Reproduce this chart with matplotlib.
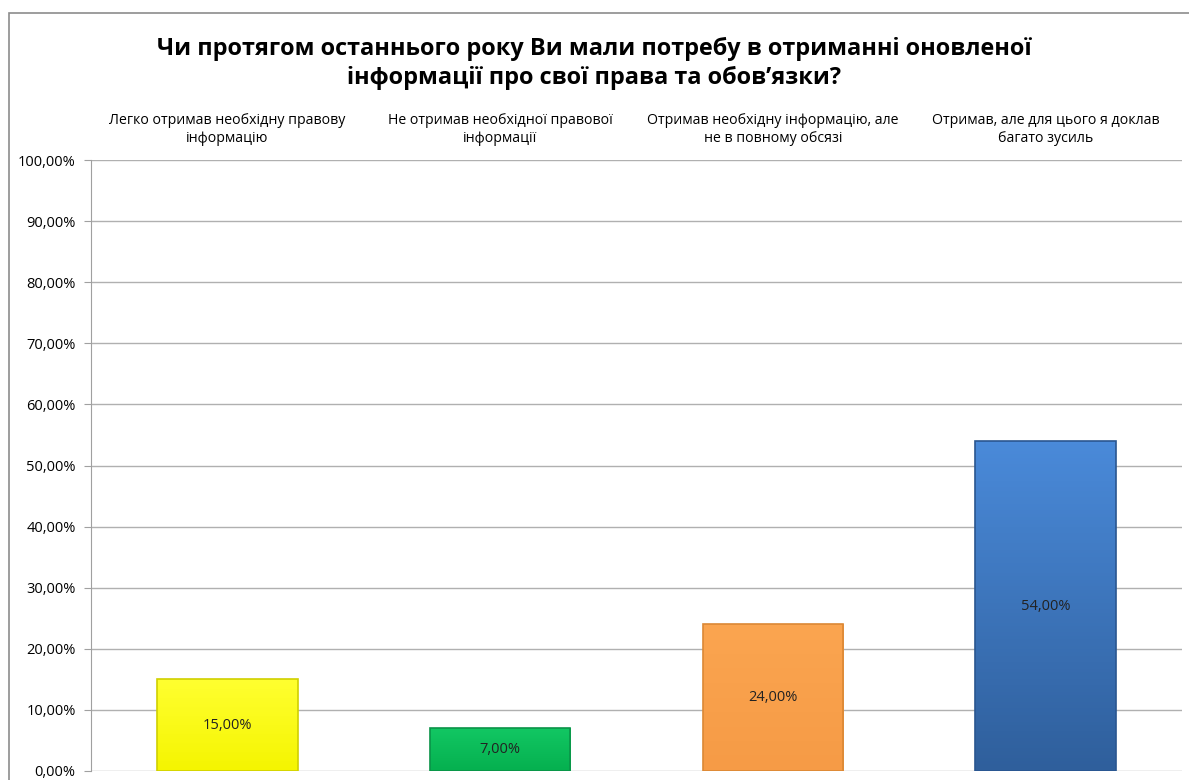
import numpy as np
import matplotlib.pyplot as plt
from matplotlib.patches import Rectangle
from matplotlib.colors import LinearSegmentedColormap
from matplotlib.ticker import MultipleLocator, FuncFormatter

plt.rcParams['font.family'] = ['Open Sans', 'DejaVu Sans']

# data
categories = [
    'Легко отримав необхідну правову\nінформацію',
    'Не отримав необхідної правової\nінформації',
    'Отримав необхідну інформацію, але\nне в повному обсязі',
    'Отримав, але для цього я доклав\nбагато зусиль',
]
values = [15.0, 7.0, 24.0, 54.0]
labels = ['15,00%', '7,00%', '24,00%', '54,00%']
title = ('Чи протягом останнього року Ви мали потребу в отриманні оновленої\n'
         'інформації про свої права та обов’язки?')

# (top colour, bottom colour, edge colour)
bar_colors = [
    ('#ffff30', '#f5f500', '#d0d000'),
    ('#12c763', '#05b04f', '#0a9348'),
    ('#fba550', '#f69b46', '#db8835'),
    ('#4a8ad9', '#2f5f9c', '#2a5690'),
]

fig = plt.figure(figsize=(11.89, 7.80), dpi=100)
ax = fig.add_axes([91 / 1189, 9 / 780, (1182 - 91) / 1189, (771 - 160) / 780])

x = np.arange(len(values))
width = 0.515
bars = ax.bar(x, values, width=width, color='none', edgecolor='none', zorder=3)

# gradient fill per bar
for b, (c_top, c_bot, c_edge) in zip(bars, bar_colors):
    x0, y0 = b.get_x(), b.get_y()
    w, h = b.get_width(), b.get_height()
    cmap = LinearSegmentedColormap.from_list('g', [c_bot, c_top])
    grad = np.linspace(0, 1, 100).reshape(-1, 1)
    ax.imshow(grad, cmap=cmap, origin='lower', aspect='auto',
              extent=(x0, x0 + w, y0, y0 + h), zorder=3)
    ax.add_patch(Rectangle((x0, y0), w, h, facecolor='none',
                           edgecolor=c_edge, linewidth=1.2, zorder=4))

for xi, v, lab in zip(x, values, labels):
    ax.text(xi, v / 2, lab, ha='center', va='center', fontsize=10.5,
            color='#222222', zorder=5)

ax.set_xlim(-0.5, len(values) - 0.5)
ax.set_ylim(0, 100)
ax.yaxis.set_major_locator(MultipleLocator(10))
ax.yaxis.set_major_formatter(FuncFormatter(lambda v, p: f'{v:.2f}%'.replace('.', ',')))
ax.grid(True, axis='y', color='#b0b0b0', linewidth=1)
ax.set_axisbelow(True)

for s in ['top', 'right', 'bottom']:
    ax.spines[s].set_visible(False)
ax.spines['left'].set_color('#a0a0a0')
ax.tick_params(axis='y', length=5, color='#a0a0a0', labelsize=10.5, pad=6)

# category labels on top
ax.xaxis.tick_top()
ax.set_xticks(x)
ax.set_xticklabels(categories, fontsize=10.2, linespacing=1.25)
ax.tick_params(axis='x', length=0, pad=10)

fig.text(0.5, 0.953, title, ha='center', va='top', fontsize=16.9,
         fontweight='bold', linespacing=1.3)

# outer chart border
fig.add_artist(Rectangle((9 / 1189, -0.1), 1.2, (780 - 13) / 780 + 0.1,
                         transform=fig.transFigure, fill=False,
                         edgecolor='#8c8c8c', linewidth=1.2))

fig.savefig('out.png', dpi=100)
